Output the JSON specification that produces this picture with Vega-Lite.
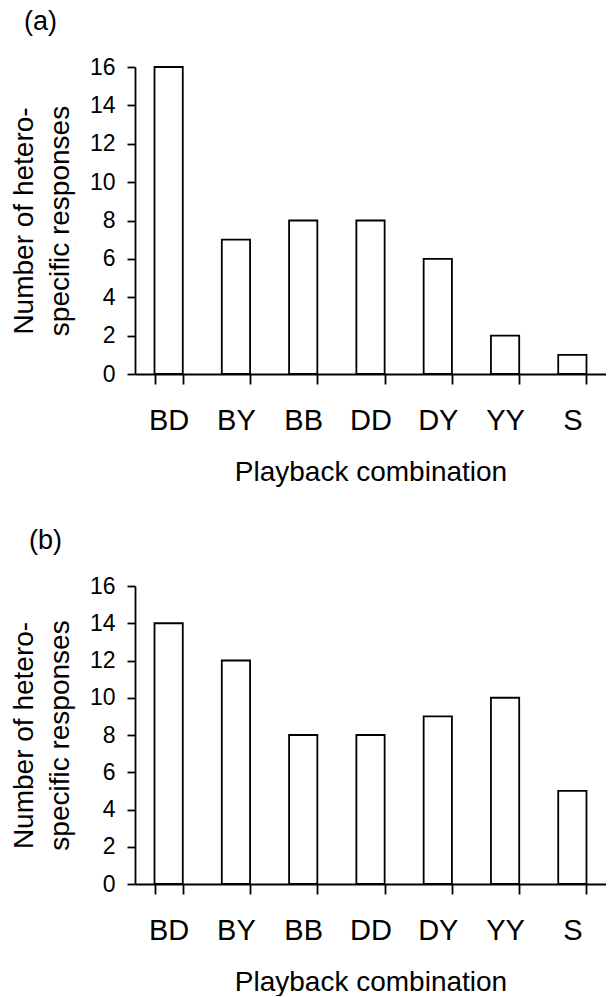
{
  "$schema": "https://vega.github.io/schema/vega-lite/v6.json",
  "padding": {"left": 10, "top": 8, "right": 0, "bottom": 0},
  "background": "white",
  "datasets": {
    "a": [
      {"combo": "BD", "n": 16},
      {"combo": "BY", "n": 7},
      {"combo": "BB", "n": 8},
      {"combo": "DD", "n": 8},
      {"combo": "DY", "n": 6},
      {"combo": "YY", "n": 2},
      {"combo": "S", "n": 1}
    ],
    "b": [
      {"combo": "BD", "n": 14},
      {"combo": "BY", "n": 12},
      {"combo": "BB", "n": 8},
      {"combo": "DD", "n": 8},
      {"combo": "DY", "n": 9},
      {"combo": "YY", "n": 10},
      {"combo": "S", "n": 5}
    ]
  },
  "bounds": "flush",
  "spacing": 212,
  "config": {
    "font": "Liberation Sans",
    "view": {"stroke": null},
    "axis": {
      "grid": false,
      "domainColor": "black",
      "domainWidth": 1.8,
      "tickColor": "black",
      "tickWidth": 1.8,
      "labelColor": "black",
      "titleColor": "black",
      "titleFontWeight": "normal",
      "labelFont": "Liberation Sans",
      "titleFont": "Liberation Sans"
    },
    "title": {"font": "Liberation Sans", "fontWeight": "normal", "color": "black"}
  },
  "vconcat": [
    {
      "data": {"name": "a"},
      "title": {"text": "(a)", "anchor": "start", "frame": "group", "fontSize": 27, "dx": -111, "offset": 20},
      "width": 471,
      "height": 307,
      "mark": {"type": "bar", "fill": "white", "stroke": "black", "strokeWidth": 1.8},
      "encoding": {
        "x": {
          "field": "combo", "type": "nominal", "sort": null,
          "scale": {"paddingInner": 0.58, "paddingOuter": 0.29},
          "axis": {"title": "Playback combination", "labelAngle": 0, "tickBand": "extent", "tickSize": 10, "labelPadding": 22, "labelFontSize": 29, "titleFontSize": 28, "titlePadding": 23}
        },
        "y": {
          "field": "n", "type": "quantitative",
          "scale": {"domain": [0, 16]},
          "axis": {"values": [0, 2, 4, 6, 8, 10, 12, 14, 16], "title": ["Number of hetero-", "specific responses"], "tickSize": 8, "labelPadding": 12, "labelFontSize": 23, "titleFontSize": 28, "titleLineHeight": 36, "titlePadding": 15}
        }
      }
    },
    {
      "data": {"name": "b"},
      "title": {"text": "(b)", "anchor": "start", "frame": "group", "fontSize": 27, "dx": -106, "offset": 20},
      "width": 471,
      "height": 298,
      "mark": {"type": "bar", "fill": "white", "stroke": "black", "strokeWidth": 1.8},
      "encoding": {
        "x": {
          "field": "combo", "type": "nominal", "sort": null,
          "scale": {"paddingInner": 0.58, "paddingOuter": 0.29},
          "axis": {"title": "Playback combination", "labelAngle": 0, "tickBand": "extent", "tickSize": 10, "labelPadding": 22, "labelFontSize": 29, "titleFontSize": 28, "titlePadding": 23}
        },
        "y": {
          "field": "n", "type": "quantitative",
          "scale": {"domain": [0, 16]},
          "axis": {"values": [0, 2, 4, 6, 8, 10, 12, 14, 16], "title": ["Number of hetero-", "specific  responses"], "tickSize": 8, "labelPadding": 12, "labelFontSize": 23, "titleFontSize": 28, "titleLineHeight": 36, "titlePadding": 15}
        }
      }
    }
  ]
}
